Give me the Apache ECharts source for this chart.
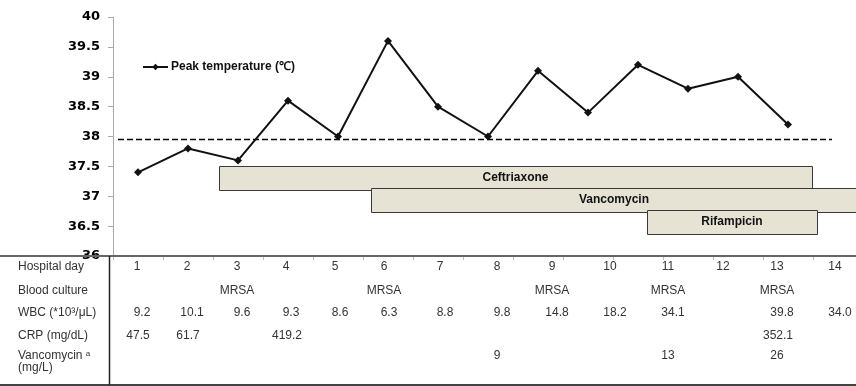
<!DOCTYPE html>
<html><head><meta charset="utf-8">
<script src="https://cdn.jsdelivr.net/npm/echarts@6/dist/echarts.min.js"></script>
<style>html,body{margin:0;padding:0;background:#fff}#c{width:856px;height:386px}</style>
</head><body><div id="c"></div>
<script>
// ---- data ----
const days = [1,2,3,4,5,6,7,8,9,10,11,12,13,14];
const peakTemp = [37.4,37.8,37.6,38.6,38.0,39.6,38.5,38.0,39.1,38.4,39.2,38.8,39.0,38.2];
const feverThreshold = 37.95;
const yTicks = [36,36.5,37,37.5,38,38.5,39,39.5,40];
const drugNames = ['Ceftriaxone','Vancomycin','Rifampicin'];
const drugStart = [2.62, 5.66, 11.18];
const drugEnd   = [14.48, 15.5, 14.58];
const drugTop   = [37.51, 37.14, 36.77];
const drugBottom= [37.10, 36.74, 36.37];
const rowLabels = ['Hospital day','Blood culture','WBC (*10\u00b3/\u03bcL)','CRP (mg/dL)'];
const hospitalDay = ['1','2','3','4','5','6','7','8','9','10','11','12','13','14'];
const bloodCulture = ['','','MRSA','','','MRSA','','','MRSA','','MRSA','','MRSA',''];
const wbc = ['9.2','10.1','9.6','9.3','8.6','6.3','8.8','9.8','14.8','18.2','34.1','','39.8','34.0'];
const crp = ['47.5','61.7','','419.2','','','','','','','','','352.1',''];
const vancoLevel = ['','','','','','','','9','','','13','','26',''];

// ---- layout ----
const colX = [137,187,237,286,335,384,440,497,552,610,668,723,777,835];
const rowY = [267,291,313,336,356];
const TXT = '#333';
const tableFont = '12px "Liberation Sans", Arial, sans-serif';

const chart = echarts.init(document.getElementById('c'), null, {renderer:'canvas'});

const graphics = [];
function txt(x,y,s,align,dx){
  graphics.push({type:'text', x:x+(dx||0), y:y, style:{text:s, fill:TXT, font:tableFont, textAlign:align||'center', textVerticalAlign:'middle'}, z:10});
}
rowLabels.forEach((l,i)=>txt(18,rowY[i],l,'left'));
graphics.push({type:'text', x:18, y:356, style:{rich:{a:{font:tableFont, fill:TXT},s:{font:'8px "Liberation Sans", Arial, sans-serif', fill:TXT, verticalAlign:'top', padding:[0,0,5,0]}}, text:'{a|Vancomycin }{s|a}', textVerticalAlign:'middle'}, z:10});
txt(18,368,'(mg/L)','left');
const rows = [hospitalDay, bloodCulture, wbc, crp, vancoLevel];
const offs = [0, 0, 5, 1, 0];
rows.forEach((r,ri)=>r.forEach((v,ci)=>{ if(v) txt(colX[ci], rowY[ri], v, 'center', offs[ri]); }));
// table borders
graphics.push({type:'line', shape:{x1:0,y1:256,x2:856,y2:256}, style:{stroke:'#666', lineWidth:2}, z:5});
graphics.push({type:'line', shape:{x1:0,y1:385,x2:856,y2:385}, style:{stroke:'#444', lineWidth:2}, z:5});
graphics.push({type:'line', shape:{x1:109.5,y1:256,x2:109.5,y2:385}, style:{stroke:'#222', lineWidth:1.5}, z:5});

const drugData = drugNames.map((n,i)=>[drugStart[i], drugEnd[i], drugTop[i], drugBottom[i], n]);

chart.setOption({
  animation:false,
  textStyle:{fontFamily:'"Liberation Sans", Arial, sans-serif'},
  grid:{left:113, top:17, right:0, height:239},
  legend:{
    left:137, top:56, itemWidth:25, itemHeight:8, itemGap:5,
    data:['Peak temperature (\u2103)'],
    textStyle:{fontWeight:'bold', fontSize:12, color:'#111', padding:[0,0,0,-2]}
  },
  xAxis:{type:'value', min:0.5, max:15.36, interval:1,
     axisLine:{show:false}, axisLabel:{show:false}, splitLine:{show:false},
     axisTick:{show:true, length:4, lineStyle:{color:'#bbb'}}},
  yAxis:{type:'value', min:36, max:40, interval:0.5,
    axisLine:{show:true, lineStyle:{color:'#aaa'}},
    axisTick:{show:true, length:5, lineStyle:{color:'#aaa'}},
    splitLine:{show:false},
    axisLabel:{margin:13, color:'#000', fontWeight:'bold', fontSize:13, fontFamily:'"DejaVu Sans", sans-serif',
      formatter:v=>String(v)}
  },
  series:[
    {type:'custom', name:'drugs', clip:false, z:2,
     renderItem:(params, api)=>{
       const p1 = api.coord([api.value(0), api.value(2)]);
       const p2 = api.coord([api.value(1), api.value(3)]);
       return {type:'group', children:[
         {type:'rect', shape:{x:Math.round(p1[0])+0.5, y:Math.round(p1[1])+0.5, width:Math.round(p2[0]-p1[0]), height:Math.round(p2[1]-p1[1])},
          style:{fill:'#e6e3d5', stroke:'#3a3a3a', lineWidth:1}},
         {type:'text', x:(p1[0]+Math.min(p2[0],857))/2, y:(p1[1]+p2[1])/2,
          style:{text:drugData[params.dataIndex][4], font:'bold 12px "Liberation Sans", Arial, sans-serif', fill:'#111', textAlign:'center', textVerticalAlign:'middle'}}
       ]};
     },
     data:drugData.map(d=>d.slice(0,4))
    },
    {type:'line', name:'threshold', symbol:'none', silent:true, z:3,
     data:[[0.6, feverThreshold],[14.88, feverThreshold]],
     lineStyle:{color:'#000', width:1.5, type:[6,3]}},
    {type:'line', name:'Peak temperature (\u2103)', z:4,
     data:days.map((d,i)=>[d, peakTemp[i]]),
     symbol:'diamond', symbolSize:8, showSymbol:true,
     itemStyle:{color:'#111'}, lineStyle:{color:'#111', width:2}}
  ],
  graphic:graphics
});
</script></body></html>
